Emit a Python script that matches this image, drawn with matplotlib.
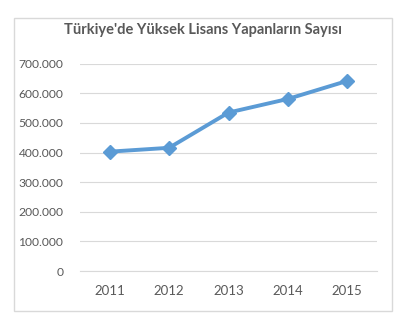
import matplotlib
matplotlib.use("Agg")
import matplotlib.pyplot as plt
from matplotlib.patches import Rectangle
from matplotlib.ticker import FuncFormatter

years = ["2011", "2012", "2013", "2014", "2015"]
students = [403000, 416000, 535000, 581000, 642000]
yticks = [0, 100000, 200000, 300000, 400000, 500000, 600000, 700000]

plt.rcParams['font.family'] = ['Lato', 'DejaVu Sans']
grey = '#595959'

fig = plt.figure(figsize=(4.01, 3.2), dpi=100)
fig.patch.set_facecolor('white')

# chart border like excel
fig.patches.append(Rectangle((14/401, 1 - 311/320), 378/401, 293/320,
                             transform=fig.transFigure, fill=False,
                             edgecolor='#D9D9D9', linewidth=1))

ax = fig.add_axes([80/401, 49/320, 297/401, 207.3/320])
x = list(range(len(years)))
ax.plot(x, students, color='#5B9BD5', linewidth=2.8, marker='D',
        markersize=7, markeredgecolor='#5B9BD5', solid_capstyle='round')

ax.set_xlim(-0.5, len(years) - 0.5)
ax.set_ylim(0, 700000)
ax.set_xticks(x)
ax.set_xticklabels(years)
ax.set_yticks(yticks)
ax.yaxis.set_major_formatter(FuncFormatter(lambda v, p: f"{int(v):,}".replace(",", ".")))
ax.grid(axis='y', color='#D9D9D9', linewidth=0.8)
ax.set_axisbelow(True)
for s in ['top', 'right', 'left']:
    ax.spines[s].set_visible(False)
ax.spines['bottom'].set_color('#D9D9D9')
ax.tick_params(length=0, colors=grey)
ax.tick_params(axis='y', pad=12, labelsize=8.7)
ax.tick_params(axis='x', pad=10, labelsize=9.5)

fig.text(203/401, 1 - 30/320, "Türkiye'de Yüksek Lisans Yapanların Sayısı",
         ha='center', va='center', fontsize=10.5, fontweight='bold', color=grey)

fig.savefig("out.png", dpi=100)
